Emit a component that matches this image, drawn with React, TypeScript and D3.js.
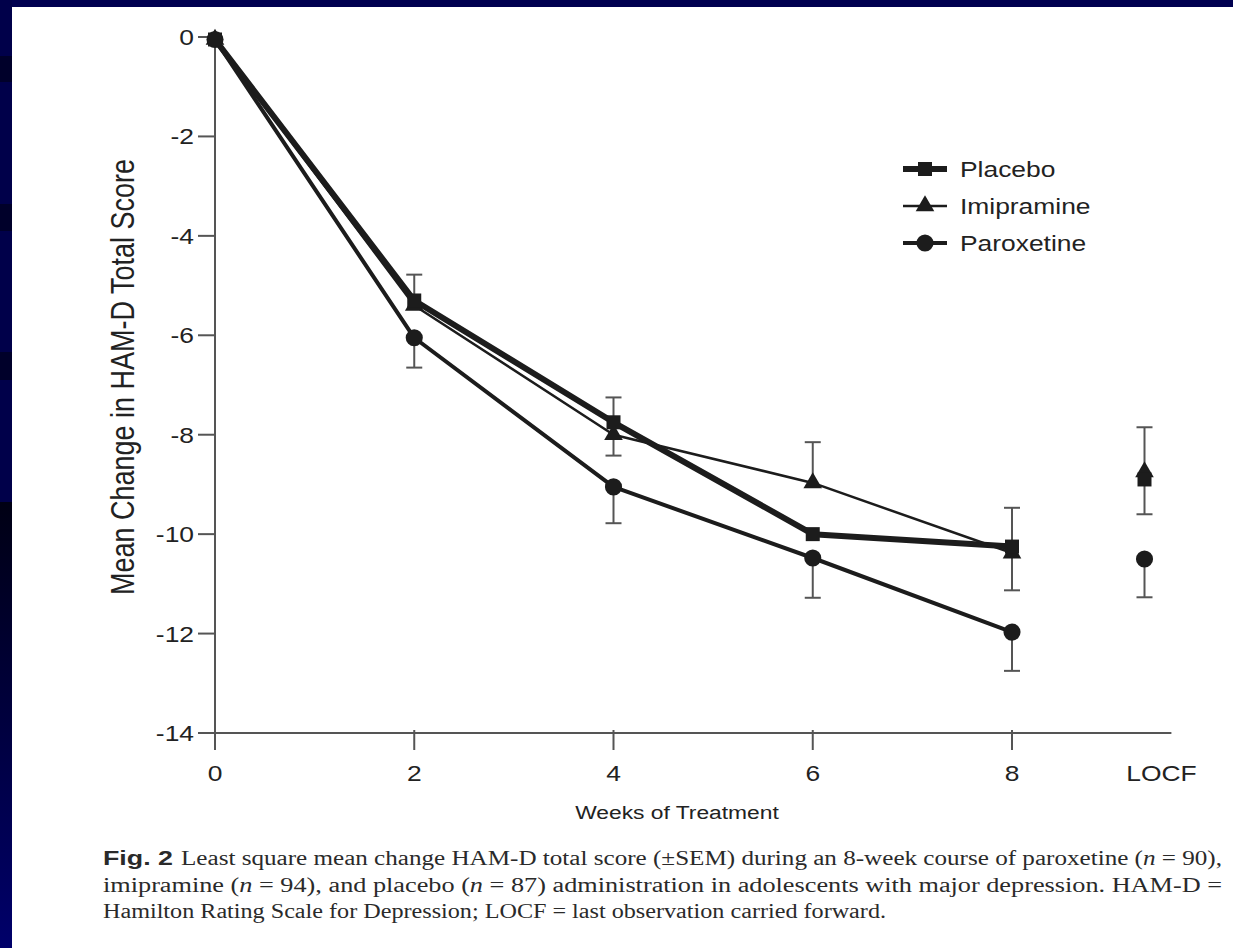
import React, { useEffect, useRef } from "react";
import * as d3 from "d3";

// weeks 0..8, last entry is the LOCF column
const weeks = [0, 2, 4, 6, 8];
const locfPos = 9.33;
const xTickLabels = ["0", "2", "4", "6", "8", "LOCF"];
const xTickPos = [0, 2, 4, 6, 8, 9.5];
const yTicks = [0, -2, -4, -6, -8, -10, -12, -14];

const placebo = [-0.05, -5.3, -7.75, -10.0, -10.25, -8.9];
const placeboUp = [0, 0.52, 0.5, 0, 0.78, 0];
const placeboDown = [0, 0, 0, 0, 0, 0.7];

const imipramine = [-0.05, -5.4, -8.0, -8.97, -10.38, -8.75];
const imipramineUp = [0, 0, 0, 0.82, 0, 0.9];
const imipramineDown = [0, 0, 0.42, 0, 0.75, 0];

const paroxetine = [-0.05, -6.05, -9.05, -10.48, -11.97, -10.5];
const paroxetineUp = [0, 0, 0, 0, 0, 0];
const paroxetineDown = [0, 0.6, 0.73, 0.8, 0.78, 0.77];

const seriesNames = ["Placebo", "Imipramine", "Paroxetine"];

const SANS = "'Liberation Sans', Arial, Helvetica, sans-serif";
const SERIF = "'Liberation Serif', 'Times New Roman', serif";
const INK = "#1c1c1c";
const SX = 1.2; // the scan is stretched sideways

const App = () => {
  const ref = useRef<SVGSVGElement>(null);

  useEffect(() => {
    const W = 1233, H = 948;
    const svg = d3.select(ref.current).attr("width", W).attr("height", H);
    svg.selectAll("*").remove();

    // slide frame
    const defs = svg.append("defs");
    const grad = defs.append("linearGradient").attr("id", "edge").attr("x1", 0).attr("x2", 0).attr("y1", 0).attr("y2", 1);
    grad.append("stop").attr("offset", "0%").attr("stop-color", "#000014");
    grad.append("stop").attr("offset", "100%").attr("stop-color", "#00006a");
    svg.append("rect").attr("width", W).attr("height", H).attr("fill", "#ffffff");
    svg.append("rect").attr("width", W).attr("height", 7).attr("fill", "#000050");
    svg.append("rect").attr("width", 12).attr("height", H).attr("fill", "#00004a");
    [[56, 82], [204, 231], [352, 380]].forEach(([a, b]) =>
      svg.append("rect").attr("y", a).attr("width", 12).attr("height", b - a).attr("fill", "#00002a"));
    svg.append("rect").attr("y", 502).attr("width", 12).attr("height", H - 502).attr("fill", "url(#edge)");

    const x = d3.scaleLinear().domain([0, 8]).range([215, 1012]);
    const y = d3.scaleLinear().domain([0, -14]).range([37, 733]);
    const xs = [...weeks, locfPos];

    const text = (g, tx, ty, s, size, anchor) =>
      g.append("text")
        .attr("transform", `translate(${tx},${ty}) scale(${SX},1)`)
        .attr("font-family", SANS)
        .attr("font-size", size)
        .attr("fill", "#222")
        .attr("text-anchor", anchor)
        .text(s);

    // axes
    const axis = svg.append("g").attr("stroke", "#555").attr("stroke-width", 2);
    axis.append("line").attr("x1", x(0)).attr("x2", x(0)).attr("y1", y(0)).attr("y2", y(-14));
    axis.append("line").attr("x1", x(0)).attr("x2", x(9.6)).attr("y1", y(-14)).attr("y2", y(-14));
    yTicks.forEach(v => {
      axis.append("line").attr("x1", x(0) - 17).attr("x2", x(0)).attr("y1", y(v)).attr("y2", y(v));
      text(svg, x(0) - 21, y(v) + 8, String(v), 22, "end");
    });
    xTickPos.forEach((v, i) => {
      if (xTickLabels[i] !== "LOCF") {
        axis.append("line").attr("x1", x(v)).attr("x2", x(v)).attr("y1", y(-14) - 3).attr("y2", y(-14) + 17);
      }
      text(svg, x(v), 781, xTickLabels[i], 22, "middle");
    });

    text(svg, 677, 819, "Weeks of Treatment", 19, "middle");
    svg.append("text")
      .attr("transform", `translate(134,377) scale(${SX},1) rotate(-90)`)
      .attr("font-family", SANS)
      .attr("font-size", 27)
      .attr("fill", "#222")
      .attr("text-anchor", "middle")
      .text("Mean Change in HAM-D Total Score");

    const series = [
      { name: seriesNames[0], vals: placebo, up: placeboUp, down: placeboDown, width: 6, marker: "square" },
      { name: seriesNames[1], vals: imipramine, up: imipramineUp, down: imipramineDown, width: 2.5, marker: "triangle" },
      { name: seriesNames[2], vals: paroxetine, up: paroxetineUp, down: paroxetineDown, width: 4, marker: "circle" },
    ];

    // error bars
    const eb = svg.append("g").attr("stroke", "#555").attr("stroke-width", 2);
    series.forEach(s => {
      s.vals.forEach((v, i) => {
        const cx = x(xs[i]);
        [[s.up[i], 1], [s.down[i], -1]].forEach(([e, dir]) => {
          if (!e) return;
          const end = y(v + dir * e);
          eb.append("line").attr("x1", cx).attr("x2", cx).attr("y1", y(v)).attr("y2", end);
          eb.append("line").attr("x1", cx - 8).attr("x2", cx + 8).attr("y1", end).attr("y2", end);
        });
      });
    });

    const line = d3.line<number>().x((d, i) => x(weeks[i])).y(d => y(d));
    const drawOrder = [1, 0, 2];
    drawOrder.forEach(k => {
      const s = series[k];
      svg.append("path")
        .attr("d", line(s.vals.slice(0, weeks.length)))
        .attr("fill", "none")
        .attr("stroke", INK)
        .attr("stroke-width", s.width)
        .attr("stroke-linejoin", "round");
    });

    const sym = {
      square: d3.symbol(d3.symbolSquare, 196),
      triangle: d3.symbol(d3.symbolTriangle, 150),
      circle: d3.symbol(d3.symbolCircle, 230),
    };
    const marker = (g, type, cx, cy) =>
      g.append("path").attr("d", sym[type]()).attr("transform", `translate(${cx},${cy})`).attr("fill", INK);

    drawOrder.forEach(k => {
      const s = series[k];
      s.vals.forEach((v, i) => marker(svg, s.marker, x(xs[i]), y(v)));
    });

    // legend
    const lg = svg.append("g");
    series.forEach((s, i) => {
      const ly = 169 + i * 37;
      lg.append("line").attr("x1", 903).attr("x2", 947).attr("y1", ly).attr("y2", ly)
        .attr("stroke", INK).attr("stroke-width", s.width);
      marker(lg, s.marker, 925, ly);
      text(lg, 960, ly + 8, s.name, 22, "start");
    });

    // caption
    const cap = svg.append("g").attr("fill", "#2a2a2a").attr("font-family", SERIF).attr("font-size", 20);
    cap.append("text").attr("x", 103).attr("y", 865)
      .attr("font-family", SANS).attr("font-weight", "bold").attr("font-size", 21)
      .attr("textLength", 70).attr("lengthAdjust", "spacingAndGlyphs").text("Fig. 2");
    const capLine = (yy, x0, len, parts) => {
      const t = cap.append("text").attr("x", x0).attr("y", yy)
        .attr("textLength", len).attr("lengthAdjust", "spacingAndGlyphs");
      parts.forEach(p => {
        const ts = t.append("tspan").text(p[0]);
        if (p[1]) ts.attr("font-style", "italic");
      });
    };
    capLine(865, 181, 1041, [
      ["Least square mean change HAM-D total score (±SEM) during an 8-week course of paroxetine ("],
      ["n", true], [" = 90),"],
    ]);
    capLine(892, 103, 1119, [
      ["imipramine ("], ["n", true], [" = 94), and placebo ("], ["n", true],
      [" = 87) administration in adolescents with major depression. HAM-D ="],
    ]);
    capLine(918, 103, 783, [
      ["Hamilton Rating Scale for Depression; LOCF = last observation carried forward."],
    ]);
  }, []);

  return <svg ref={ref} style={{ position: "absolute", left: 0, top: 0 }}></svg>;
};

export default App;
